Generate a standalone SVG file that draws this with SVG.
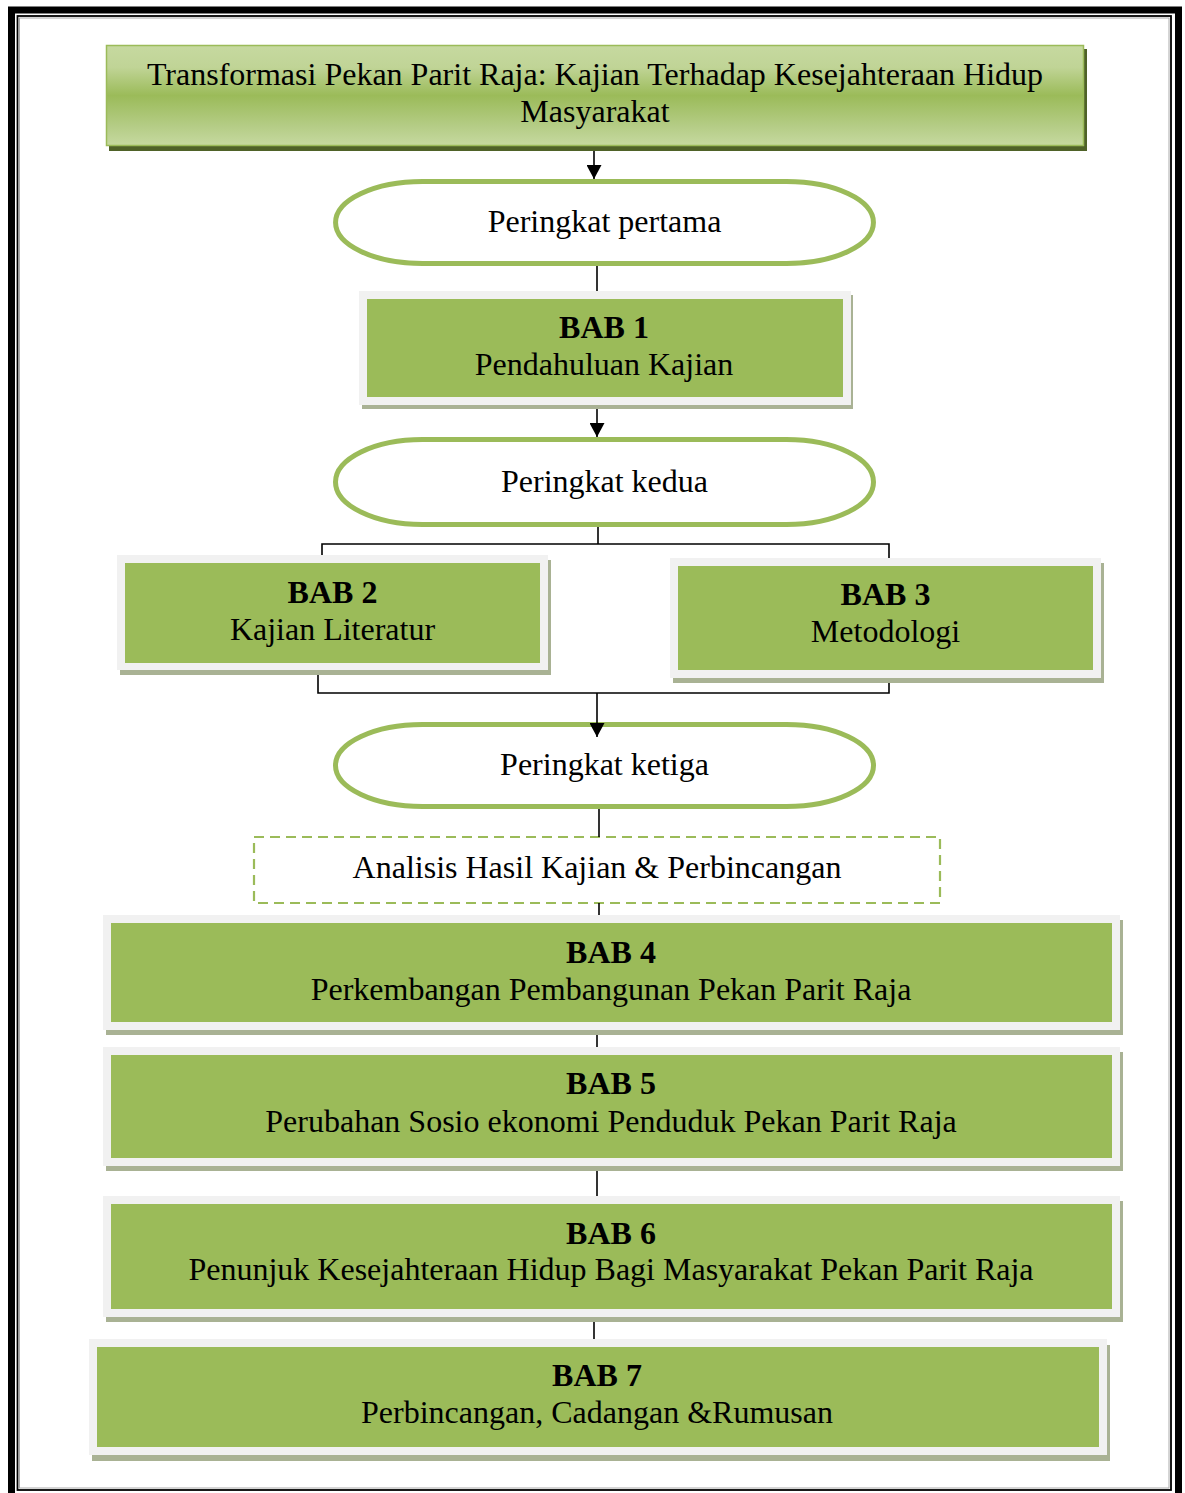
<svg xmlns="http://www.w3.org/2000/svg" width="1185" height="1493" viewBox="0 0 1185 1493">
<style>
text{font-family:"Liberation Serif","Times New Roman",serif;font-size:32px;fill:#000;text-anchor:middle}
.b{font-weight:bold}
.frame{fill:#f1f1f1}
.green{fill:#9bbb59}
.shadow{fill:#a9b294}
.term{fill:#fff;stroke:#9bbb59;stroke-width:5}
.conn{fill:none;stroke:#000;stroke-width:1.6}
</style>
<defs>
<linearGradient id="tg" x1="0" y1="0" x2="0" y2="1">
<stop offset="0" stop-color="#c6d9a0"/>
<stop offset="0.22" stop-color="#c0d496"/>
<stop offset="0.5" stop-color="#9bbb59"/>
<stop offset="0.8" stop-color="#b4cc85"/>
<stop offset="1" stop-color="#c6d9a0"/>
</linearGradient>
<marker id="ah" markerWidth="15" markerHeight="15" refX="14" refY="7.5" orient="auto" markerUnits="userSpaceOnUse">
<path d="M0,0 L14,7.5 L0,15 Z" fill="#000"/>
</marker>
</defs>
<rect width="1185" height="1493" fill="#fff"/>
<g id="border">
<rect x="11.5" y="10" width="1167" height="1490" fill="none" stroke="#000" stroke-width="7"/>
<rect x="17.5" y="16" width="1153.5" height="1474" fill="none" stroke="#000" stroke-width="1.8"/>
<rect x="19.5" y="18" width="1149.5" height="1470" fill="none" stroke="#aaa" stroke-width="1"/>
</g>
<g id="title">
<rect x="109" y="49" width="978" height="102" fill="#4f6228"/>
<rect x="106.5" y="45.5" width="977" height="100" fill="url(#tg)" stroke="#9bbb59" stroke-width="1.5"/>
<text x="595" y="85">Transformasi Pekan Parit Raja: Kajian Terhadap Kesejahteraan Hidup</text>
<text x="595" y="122">Masyarakat</text>
</g>
<g id="peringkat1">
<path class="term" d="M422.5,181.5 H786.5 A87,41 0 0 1 786.5,263.5 H422.5 A87,41 0 0 1 422.5,181.5 Z"/>
<text x="604.5" y="232">Peringkat pertama</text>
</g>
<g id="bab1">
<rect class="shadow" x="362" y="295" width="491" height="114"/>
<rect class="frame" x="359" y="291" width="492" height="114"/>
<rect class="green" x="367" y="299" width="476" height="98"/>
<text class="b" x="604" y="338">BAB 1</text>
<text x="604" y="375">Pendahuluan Kajian</text>
</g>
<g id="peringkat2">
<path class="term" d="M422.5,439.5 H786.5 A87,42.5 0 0 1 786.5,524.5 H422.5 A87,42.5 0 0 1 422.5,439.5 Z"/>
<text x="604.5" y="492">Peringkat kedua</text>
</g>
<g id="bab2">
<rect class="shadow" x="120" y="560" width="431" height="115"/>
<rect class="frame" x="117" y="555" width="431" height="115"/>
<rect class="green" x="125" y="563" width="415" height="100"/>
<text class="b" x="332.5" y="603">BAB 2</text>
<text x="332.5" y="640">Kajian Literatur</text>
</g>
<g id="bab3">
<rect class="shadow" x="673" y="563" width="431" height="120"/>
<rect class="frame" x="670" y="558" width="431" height="120"/>
<rect class="green" x="678" y="566" width="415" height="104"/>
<text class="b" x="885.5" y="605">BAB 3</text>
<text x="885.5" y="642">Metodologi</text>
</g>
<g id="peringkat3">
<path class="term" d="M422.5,724.5 H786.5 A87,41 0 0 1 786.5,806.5 H422.5 A87,41 0 0 1 422.5,724.5 Z"/>
<text x="604.5" y="775">Peringkat ketiga</text>
</g>
<g id="analisis">
<rect x="254" y="837" width="686" height="66" fill="#fff" stroke="#9bbb59" stroke-width="2.2" stroke-dasharray="10 6"/>
<text x="597" y="878">Analisis Hasil Kajian &amp; Perbincangan</text>
</g>
<g id="bab4">
<rect class="shadow" x="106" y="920" width="1017" height="115"/>
<rect class="frame" x="103" y="915" width="1017" height="115"/>
<rect class="green" x="111" y="923" width="1001" height="99"/>
<text class="b" x="611" y="963">BAB 4</text>
<text x="611" y="1000">Perkembangan Pembangunan Pekan Parit Raja</text>
</g>
<g id="bab5">
<rect class="shadow" x="106" y="1052" width="1017" height="119"/>
<rect class="frame" x="103" y="1047" width="1017" height="119"/>
<rect class="green" x="111" y="1055" width="1001" height="103"/>
<text class="b" x="611" y="1094">BAB 5</text>
<text x="611" y="1132">Perubahan Sosio ekonomi Penduduk Pekan Parit Raja</text>
</g>
<g id="bab6">
<rect class="shadow" x="106" y="1201" width="1017" height="121"/>
<rect class="frame" x="103" y="1196" width="1017" height="121"/>
<rect class="green" x="111" y="1204" width="1001" height="105"/>
<text class="b" x="611" y="1244">BAB 6</text>
<text x="611" y="1280">Penunjuk Kesejahteraan Hidup Bagi Masyarakat Pekan Parit Raja</text>
</g>
<g id="bab7">
<rect class="shadow" x="92" y="1345" width="1018" height="116"/>
<rect class="frame" x="89" y="1339" width="1018" height="116"/>
<rect class="green" x="97" y="1347" width="1002" height="100"/>
<text class="b" x="597" y="1386">BAB 7</text>
<text x="597" y="1423">Perbincangan, Cadangan &amp;Rumusan</text>
</g>
<g id="connectors">
<path class="conn" d="M594,151 V179" marker-end="url(#ah)"/>
<path class="conn" d="M597,266 V291"/>
<path class="conn" d="M597,409 V437" marker-end="url(#ah)"/>
<path class="conn" d="M598,527 V544"/>
<path class="conn" d="M322,555 V544 H889 V558"/>
<path class="conn" d="M318,675 V693 H889 V683"/>
<path class="conn" d="M597,693 V737" marker-end="url(#ah)"/>
<path class="conn" d="M599,809 V837"/>
<path class="conn" d="M599,903 V915"/>
<path class="conn" d="M597,1035 V1047"/>
<path class="conn" d="M597,1171 V1196"/>
<path class="conn" d="M594,1322 V1339"/>
</g>
</svg>
